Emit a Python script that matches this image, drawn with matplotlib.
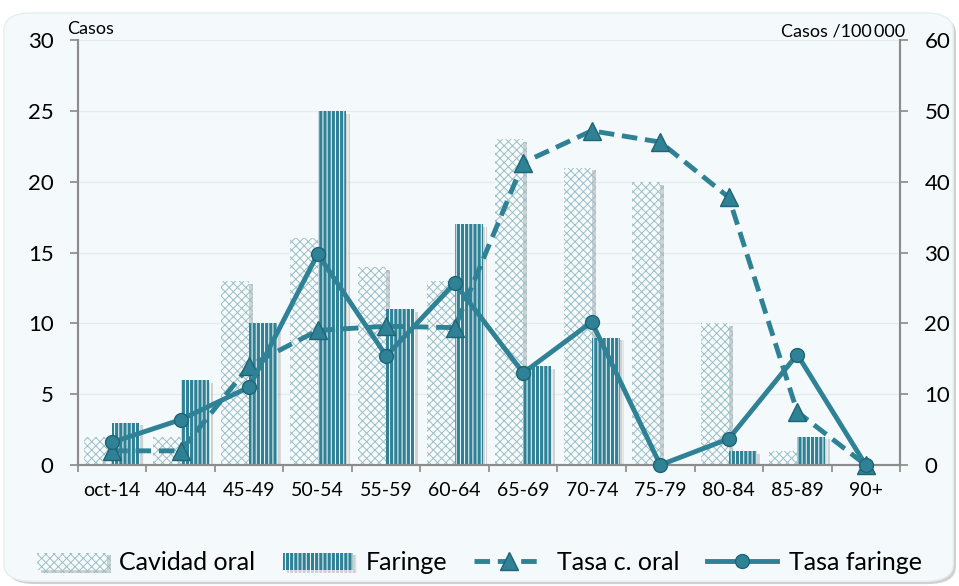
import numpy as np
import matplotlib.pyplot as plt
from matplotlib.patches import FancyBboxPatch
import matplotlib.patheffects as pe

plt.rcParams['font.family'] = ['Lato', 'DejaVu Sans']
plt.rcParams['hatch.linewidth'] = 0.7

grupos = ['oct-14', '40-44', '45-49', '50-54', '55-59', '60-64',
          '65-69', '70-74', '75-79', '80-84', '85-89', '90+']
cavidad_oral = [2, 2, 13, 16, 14, 13, 23, 21, 20, 10, 1, 0]
faringe = [3, 6, 10, 25, 11, 17, 7, 9, 0, 1, 2, 0]
tasa_oral = [2, 2, 14, 19, 19.6, 19.4, 42.7, 47.2, 45.6, 37.8, 7.5, 0]
tasa_faringe = [3.2, 6.4, 11, 29.8, 15.4, 25.7, 13, 20.2, 0, 3.7, 15.6, 0]

teal = '#2f8196'
teal_dark = '#1f6475'
bg = '#f4fafb'

fig = plt.figure(figsize=(9.59, 5.86), dpi=100)
fondo = FancyBboxPatch((0.004, 0.008), 0.99, 0.97, boxstyle='round,pad=0,rounding_size=0.03',
                       transform=fig.transFigure, facecolor=bg, edgecolor='#e6eef0',
                       linewidth=1, zorder=-20,
                       path_effects=[pe.SimplePatchShadow(offset=(2, -2), alpha=0.25), pe.Normal()])
fig.patches.append(fondo)

ax = fig.add_axes([0.0813, 0.2065, 0.8572, 0.725])
ax.set_facecolor(bg)
ax2 = ax.twinx()

x = np.arange(len(grupos))
w = 0.41
sombra = [pe.SimplePatchShadow(offset=(3, -2), alpha=0.3, shadow_rgbFace='#777777'), pe.Normal()]
b1 = ax.bar(x - w / 2, cavidad_oral, w, facecolor='#f7fbfc', edgecolor='#9bbfc8',
            hatch='xxxx', linewidth=0, label='Cavidad oral', zorder=2, path_effects=sombra)
b2 = ax.bar(x + w / 2, faringe, w, facecolor=teal, edgecolor='white',
            hatch='||||', linewidth=0, label='Faringe', zorder=2, path_effects=sombra)

ax.set_xlim(-0.5, len(grupos) - 0.5)
ax.set_ylim(0, 30)
ax.set_yticks(range(0, 31, 5))
ax.grid(axis='y', color='#e6ecee', linewidth=1, zorder=0)
ax.set_axisbelow(True)
ax.set_xticks(x)
ax.set_xticklabels(grupos, fontsize=14)
ax.set_xticks(np.arange(-0.5, len(grupos), 1), minor=True)
ax.tick_params(axis='x', which='major', length=0, pad=12)
ax.tick_params(axis='x', which='minor', length=5, color='#888888', width=1.2)
ax.tick_params(axis='y', labelsize=16, length=5.5, color='#888888', width=1.2, pad=12)

ax2.set_ylim(0, 60)
ax2.set_yticks(range(0, 61, 10))
ax2.tick_params(axis='y', labelsize=16, length=5.5, color='#888888', width=1.2, pad=12)

for a in (ax, ax2):
    for s in ['top']:
        a.spines[s].set_visible(False)
    for s in ['left', 'right', 'bottom']:
        a.spines[s].set_color('#8c8c8c')
        a.spines[s].set_linewidth(1.5)

ax.set_zorder(1)
ax2.set_zorder(2)
ax2.patch.set_visible(False)

l1, = ax2.plot(x, tasa_oral, linestyle=(0, (3.2, 1.6)), color=teal, linewidth=3.5,
               marker='^', markersize=13, markerfacecolor=teal, markeredgecolor=teal_dark,
               label='Tasa c. oral', zorder=4, clip_on=False)
l2, = ax2.plot(x, tasa_faringe, linestyle='-', color=teal, linewidth=3.5,
               marker='o', markersize=10, markerfacecolor=teal, markeredgecolor=teal_dark,
               label='Tasa faringe', zorder=5, clip_on=False)

fig.text(0.070, 0.937, 'Casos', fontsize=13, ha='left', va='bottom')
fig.text(0.944, 0.932, 'Casos /100\u2009000', fontsize=13, ha='right', va='bottom')

fig.legend([b1, b2, l1, l2], ['Cavidad oral', 'Faringe', 'Tasa c. oral', 'Tasa faringe'],
           loc='center', bbox_to_anchor=(0.5, 0.04), ncol=4, frameon=False,
           fontsize=18, handlelength=2.8, columnspacing=1.1, handletextpad=0.5)

fig.savefig('out.png', dpi=100, facecolor='white')
